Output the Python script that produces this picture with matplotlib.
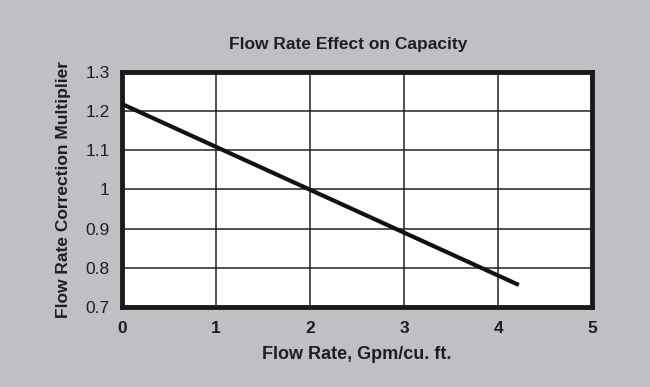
import matplotlib
matplotlib.use('Agg')
import matplotlib.pyplot as plt

# data
flow_rate = [0, 4.22]
multiplier = [1.218, 0.756]
x_ticks = [0, 1, 2, 3, 4, 5]
y_ticks = [0.7, 0.8, 0.9, 1.0, 1.1, 1.2, 1.3]
y_tick_labels = ['0.7', '0.8', '0.9', '1', '1.1', '1.2', '1.3']

plt.rcParams['font.family'] = ['Liberation Sans Narrow', 'Liberation Sans', 'DejaVu Sans']
bg = '#c0bfc4'
txt = '#1e1e1e'

fig = plt.figure(figsize=(6.5, 3.87), dpi=100, facecolor=bg)
ax = fig.add_axes([0.188, 0.207, 0.723, 0.607])
ax.set_facecolor('white')

ax.plot(flow_rate, multiplier, color='#111111', linewidth=3, solid_capstyle='butt', zorder=3)

ax.set_xlim(0, 5)
ax.set_ylim(0.7, 1.3)
ax.set_xticks(x_ticks)
ax.set_yticks(y_ticks)
ax.set_yticklabels(y_tick_labels)
ax.grid(True, color='#222222', linewidth=1.1)
ax.set_axisbelow(True)
ax.tick_params(length=0, labelsize=12.5, colors=txt)
ax.tick_params(axis='x', pad=10)
ax.tick_params(axis='y', pad=9)
for lbl in ax.get_xticklabels():
    lbl.set_fontweight('bold')
for s in ax.spines.values():
    s.set_linewidth(3.5)
    s.set_color('#1a1a1a')

fig.text(0.535, 0.885, 'Flow Rate Effect on Capacity', ha='center', va='center',
         fontsize=12.5, fontweight='bold', color=txt)
ax.set_xlabel('Flow Rate, Gpm/cu. ft.', fontsize=13, fontweight='bold', color=txt, labelpad=7)
ax.set_ylabel('Flow Rate Correction Multiplier', fontsize=12.5, fontweight='bold', color=txt, labelpad=10)

fig.savefig('out.png', dpi=100, facecolor=bg)
